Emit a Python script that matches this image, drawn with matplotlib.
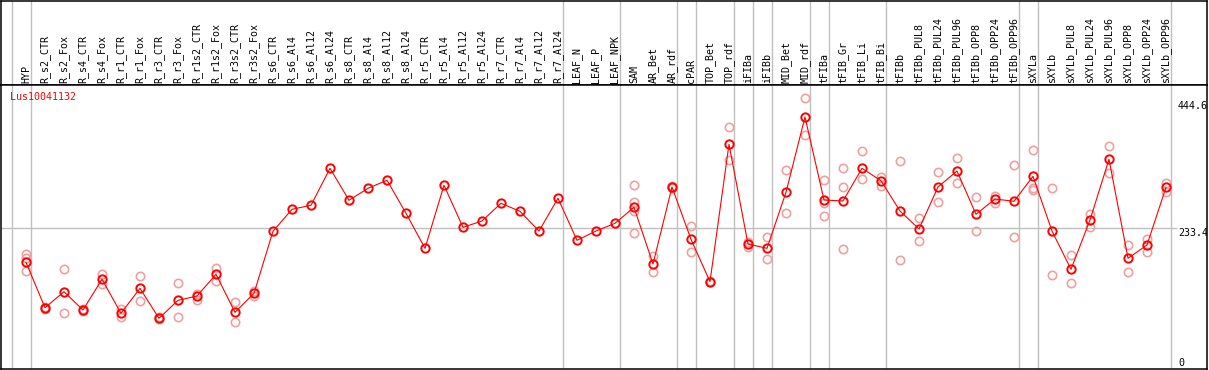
import matplotlib
matplotlib.use("Agg")
import matplotlib.pyplot as plt

W, H = 1209, 370

gene = "Lus10041132"

samples = ["HYP", "R_s2_CTR", "R_s2_Fox", "R_s4_CTR", "R_s4_Fox", "R_r1_CTR", "R_r1_Fox",
           "R_r3_CTR", "R_r3_Fox", "R_r1s2_CTR", "R_r1s2_Fox", "R_r3s2_CTR", "R_r3s2_Fox",
           "R_s6_CTR", "R_s6_Al4", "R_s6_Al12", "R_s6_Al24", "R_s8_CTR", "R_s8_Al4",
           "R_s8_Al12", "R_s8_Al24", "R_r5_CTR", "R_r5_Al4", "R_r5_Al12", "R_r5_Al24",
           "R_r7_CTR", "R_r7_Al4", "R_r7_Al12", "R_r7_Al24", "LEAF_N", "LEAF_P", "LEAF_NPK",
           "SAM", "AR_Bet", "AR_rdf", "cPAR", "TOP_Bet", "TOP_rdf", "iFIBa", "iFIBb",
           "MID_Bet", "MID_rdf", "tFIBa", "tFIB_Gr", "tFIB_Li", "tFIB_Bi", "tFIBb",
           "tFIBb_PUL8", "tFIBb_PUL24", "tFIBb_PUL96", "tFIBb_OPP8", "tFIBb_OPP24",
           "tFIBb_OPP96", "sXYLa", "sXYLb", "sXYLb_PUL8", "sXYLb_PUL24", "sXYLb_PUL96",
           "sXYLb_OPP8", "sXYLb_OPP24", "sXYLb_OPP96"]

means = [177.7, 103.9, 129.9, 100.2, 150.1, 94.8, 135.4, 86.7, 115.9, 122.9, 158.2, 96.4, 127.3,
         228.0, 263.8, 270.3, 330.4, 278.4, 297.9, 310.9, 257.3, 200.4, 302.8, 234.5, 244.8,
         273.5, 260.5, 228.5, 281.7, 213.4, 228.5, 241.0,
         267.0, 174.9, 300.0, 215.0, 146.2, 369.4, 207.4, 200.4, 291.4, 413.7,
         278.9, 277.3, 330.4, 310.2, 261.0, 231.8, 300.0, 326.0, 255.7, 280.5, 276.8,
         317.4, 228.5, 166.3, 246.4, 345.0, 184.2, 205.8, 299.5]

replicates = [
    [190.7, 185.1, 164.0],   # HYP
    [105.5, 102.5],          # R_s2_CTR
    [166.8, 94.8],           # R_s2_Fox
    [101.5, 99.0],           # R_s4_CTR
    [158.2, 142.4],          # R_s4_Fox
    [101.3, 89.3],           # R_r1_CTR
    [155.4, 114.3],          # R_r1_Fox
    [88.0, 85.5],            # R_r3_CTR
    [143.6, 88.3],           # R_r3_Fox
    [126.7, 116.4],          # R_r1s2_CTR
    [168.4, 147.8],          # R_r1s2_Fox
    [112.7, 80.7],           # R_r3s2_CTR
    [131.5, 122.9],          # R_r3s2_Fox
    [], [], [], [], [], [], [], [], [], [], [], [], [], [], [], [], [], [], [],
    [302.8, 275.6, 261.5, 224.8],  # SAM
    [188.4, 162.4],          # AR_Bet
    [301.0, 299.0],          # AR_rdf
    [236.6, 193.9],          # cPAR
    [147.0, 145.5],          # TOP_Bet
    [397.5, 343.9],          # TOP_rdf
    [210.2, 203.0],          # iFIBa
    [218.8, 182.5],          # iFIBb
    [327.1, 257.3],          # MID_Bet
    [444.6, 384.0],          # MID_rdf
    [311.4, 274.5, 252.9],   # tFIBa
    [330.4, 300.0, 198.8],   # tFIB_Gr
    [358.5, 313.5],          # tFIB_Li
    [316.7, 302.1],          # tFIB_Bi
    [342.2, 180.9],          # tFIBb
    [249.6, 211.8],          # tFIBb_PUL8
    [323.9, 275.2],          # tFIBb_PUL24
    [346.6, 306.0],          # tFIBb_PUL96
    [283.3, 228.0],          # tFIBb_OPP8
    [285.9, 274.5],          # tFIBb_OPP24
    [335.3, 218.3],          # tFIBb_OPP96
    [360.1, 297.9, 295.1],   # sXYLa
    [297.9, 156.6],          # sXYLb
    [189.0, 144.0],          # sXYLb_PUL8
    [256.1, 235.0],          # sXYLb_PUL24
    [366.6, 322.3],          # sXYLb_PUL96
    [205.8, 161.4],          # sXYLb_OPP8
    [215.0, 194.9],          # sXYLb_OPP24
    [307.0, 291.9],          # sXYLb_OPP96
]

axis_labels = ["444.6", "233.4", "0"]
mid_value = 233.4
separators_after = [-1, 0, 28, 31, 34, 35, 37, 38, 39, 41, 42, 45, 52, 53, 60]

# ---- layout (pixels) ----
left_px, right_px = 1, 1207
top_px, split_px, bottom_px = 0.5, 85, 369
x0_px, dx_px = 26, 19
y_mid_px, px_per_unit = 228, 1 / 1.6246

xlim = ((left_px - x0_px) / dx_px, (right_px - x0_px) / dx_px)
ylim = (mid_value - (bottom_px - y_mid_px) / px_per_unit,
        mid_value + (y_mid_px - split_px) / px_per_unit)

fig = plt.figure(figsize=(W / 100, H / 100), dpi=100)

def rect(y_top, y_bot):
    return [left_px / W, 1 - y_bot / H, (right_px - left_px) / W, (y_bot - y_top) / H]

ax_lab = fig.add_axes(rect(top_px, split_px))
ax = fig.add_axes(rect(split_px, bottom_px))

mono = "DejaVu Sans Mono"
grid_c = "#c0c0c0"
fs = 7.2

for a in (ax_lab, ax):
    a.set_xlim(*xlim)
    a.set_xticks([])
    a.set_yticks([])
    for s in a.spines.values():
        s.set_linewidth(1.1)
        s.set_color("black")
    for k in separators_after:
        a.axvline(k + 0.24, color=grid_c, lw=1.0, zorder=0)

ax_lab.set_ylim(0, 1)
for i, name in enumerate(samples):
    ax_lab.text(i, 2 / 85, name, rotation=90, ha="center",
                va="bottom", fontsize=fs, family=mono, color="black")

ax.set_ylim(*ylim)
ax.hlines(mid_value, xlim[0], 60.6, color=grid_c, lw=1.0, zorder=0)

xs = list(range(len(samples)))
for i, reps in enumerate(replicates):
    if reps:
        ax.plot([i] * len(reps), reps, linestyle="none", marker="o", ms=6.0,
                mfc="none", mec="#f0a0a0", mew=1.2, zorder=2)

ax.plot(xs, means, color="red", lw=0.8, zorder=3)
ax.plot(xs, means, linestyle="none", marker="o", ms=6.0, mfc="none", mec="red",
        mew=1.4, zorder=4)

ax.text((10 - left_px) / (right_px - left_px), (bottom_px - 92) / (bottom_px - split_px),
        gene, transform=ax.transAxes, ha="left", va="top", fontsize=fs, family=mono,
        color="red", zorder=5)

label_tops_px = [101, 227.5, 358.5]
for lab, ypx in zip(axis_labels, label_tops_px):
    ax.text((1178 - left_px) / (right_px - left_px), (bottom_px - ypx) / (bottom_px - split_px),
            lab, transform=ax.transAxes, ha="left", va="top", fontsize=fs, family=mono,
            color="black", clip_on=True, zorder=5)

fig.savefig("out.png", dpi=100)
